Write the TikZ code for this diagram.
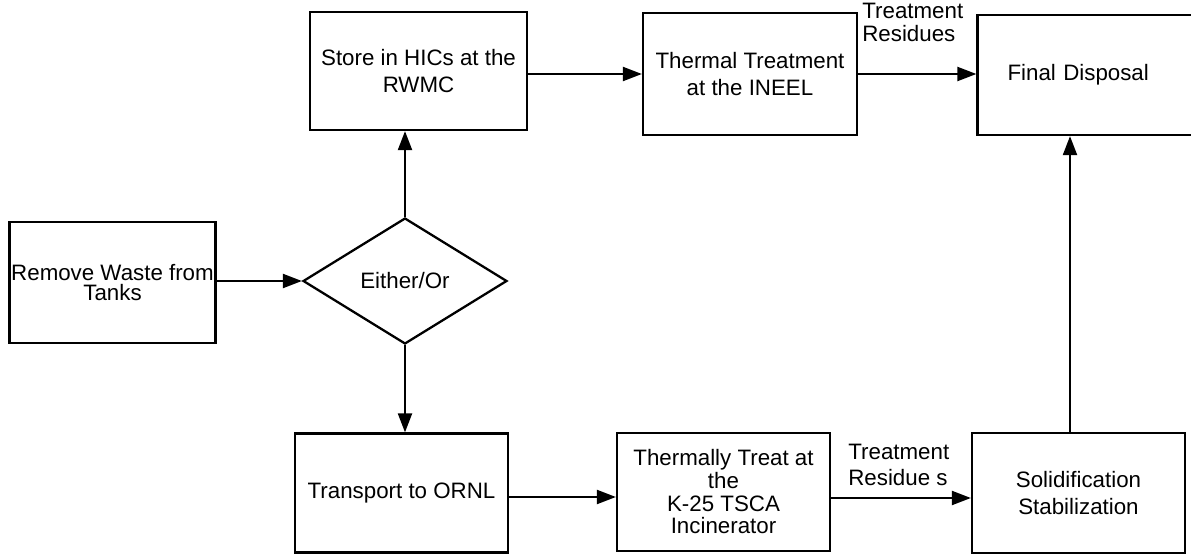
\documentclass[tikz,border=0pt]{standalone}
\usepackage{fontspec}
\setmainfont{Liberation Sans}
\usetikzlibrary{arrows.meta,shapes.geometric}
\begin{document}
\begin{tikzpicture}[x=0.02cm, y=-0.02cm,
  every node/.style={font=\fontsize{12.7}{15.9}\selectfont},
  box/.style={draw, line width=1.3pt, minimum width=4.26cm, minimum height=2.4cm, align=center, inner sep=1pt},
  choice/.style={draw, diamond, line width=1.3pt, minimum width=4.08cm, minimum height=2.52cm, inner sep=0pt},
  flow/.style={line width=1.2pt, -{Triangle[length=0.38cm, width=0.28cm]}},
  tag/.style={anchor=north west, inner sep=0pt, align=left}]
  \useasboundingbox (0,0) rectangle (1191,554);
  \node[box, minimum width=4.02cm, minimum height=2.42cm] (remove) at (112.5,282.5) {Remove Waste from\\[-4.5pt]Tanks};
  \node[choice] (either) at (405,281) {Either/Or};
  \node[box, minimum width=4.34cm, minimum height=2.36cm] (store) at (418.5,71) {Store in HICs at the\\RWMC};
  \node[box, minimum width=4.28cm, minimum height=2.44cm] (thermal) at (750,74) {Thermal Treatment\\at the INEEL};
  \node[box, minimum width=4.9cm, minimum height=2.4cm, text width=4.5cm, align=left] (final) at (1100,75) {\hspace*{0.4cm}Final Disposal};
  \node[box, minimum height=2.38cm] (transport) at (401.5,493) {Transport to ORNL};
  \node[box, minimum height=2.36cm] (incin) at (723.5,492) {Thermally Treat at\\[-3pt]the\\[-3pt]K-25 TSCA\\[-3pt]Incinerator};
  \node[box] (solid) at (1078.5,493) {Solidification\\Stabilization};
  \node[tag] (resid1) at (862,3) {Treatment\\[-3pt]Residues};
  \node[tag] (resid2) at (848,444) {Treatment\\[-1pt]Residue s};
  \draw[flow] (remove.east |- either.west) -- (either.west);
  \draw[flow] (either.north) -- (either.north |- store.south);
  \draw[flow] (either.south) -- (either.south |- transport.north);
  \draw[flow] (thermal.west -| store.east) -- (thermal.west);
  \draw[flow] (thermal.east) -- (thermal.east -| final.west);
  \draw[flow] ([yshift=-0.08cm]transport.east) -- ([yshift=-0.08cm]transport.east -| incin.west);
  \draw[flow] ([yshift=-0.12cm]incin.east) -- ([yshift=-0.12cm]incin.east -| solid.west);
  \draw[flow] ([xshift=-0.17cm]solid.north) -- ([xshift=-0.17cm]solid.north |- final.south);
\end{tikzpicture}
\end{document}
